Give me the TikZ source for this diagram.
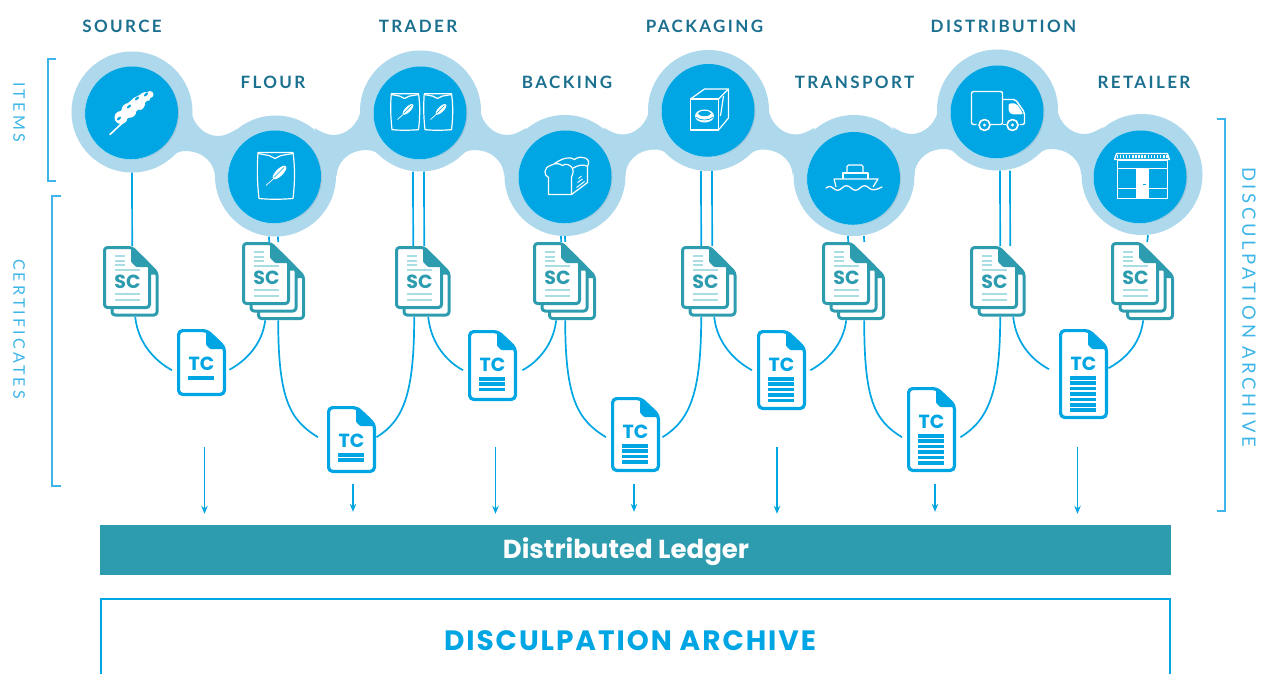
\documentclass[tikz,border=0pt]{standalone}
\usepackage{fontspec}
\usepackage{xcolor}
\usetikzlibrary{shadows,arrows.meta}

\newfontfamily\headfont{Poppins}
\newfontfamily\stepfont[LetterSpace=14]{Lato}
\newfontfamily\sidefont[LetterSpace=20]{Lato}
\newfontfamily\archivefont[LetterSpace=7]{Poppins}

\definecolor{hubblue}{HTML}{00A5E3}
\definecolor{haloblue}{HTML}{AED8EC}
\definecolor{stepdark}{HTML}{1B6F8F}
\definecolor{sideblue}{HTML}{3DB5E8}
\definecolor{tealdoc}{HTML}{2E9CAF}
\definecolor{teallight}{HTML}{A8DDE3}

\tikzset{
  halo/.style={circle, fill=haloblue, inner sep=0pt, minimum size=121pt},
  hub/.style={circle, fill=hubblue, inner sep=0pt, minimum size=92pt,
    drop shadow={shadow xshift=1pt, shadow yshift=-1pt, opacity=.08, fill=black},
    general shadow={shadow xshift=-1.2pt, shadow yshift=-1pt, fill=hubblue, draw=white!70!hubblue, line width=.4pt}},
  steplabel/.style={text=stepdark, font=\stepfont\bfseries\fontsize{17}{20}\selectfont, inner sep=0pt},
  sidelabel/.style={text=sideblue, font=\sidefont\fontsize{16}{20}\selectfont, rotate=-90, inner sep=0pt},
  bracket/.style={draw=sideblue, line width=1.1pt},
  link/.style={draw=hubblue, line width=1.7pt},
  flow/.style={draw=hubblue, line width=1.2pt, -{Stealth[length=8pt,width=6.5pt]}},
  iconline/.style={draw=white, line width=1.2pt, line join=round},
  % one bridge between a high hub and the next low hub
  pics/bandlink/.style={code={
    \fill[haloblue] (59,-2) .. controls (61,13) and (73,24) .. (86,24)
      .. controls (93,24) and (98,21) .. (105,17) -- (83,65)
      .. controls (83,53) and (73,39) .. (53,39)
      .. controls (46,39) and (43,42) .. (36,47) -- cycle;
  }},
  pics/scpage/.style={code={
    \draw[fill=white, draw=tealdoc, line width=3pt, rounded corners=3pt, line join=round]
      (1.5,1.5) -- (29,1.5) -- (46.5,19) -- (46.5,61.5) -- (1.5,61.5) -- cycle;
    \fill[tealdoc, rounded corners=1pt] (28,1) -- (47,19) -- (47,21) -- (33,21) -- (28,16) -- cycle;
  }},
  pics/scdoc/.style={code={
    \node[minimum width={(48+7.5*#1)*1pt}, minimum height={(63+7.5*#1)*1pt}, inner sep=0pt, anchor=north west] (-box) at (0,0) {};
    \foreach \k in {#1,...,0}
      \pic at ({7.5*\k},{7.5*\k}) {scpage};
    \fill[teallight] (12,9) rectangle ++(10,2.4);
    \fill[teallight] (12,13.5) rectangle ++(10,2.4);
    \fill[teallight] (12,18) rectangle ++(10,2.4);
    \fill[teallight] (12,22.5) rectangle ++(25,2.4);
    \fill[teallight] (12,46.5) rectangle ++(25,2.6);
    \fill[teallight] (12,52.5) rectangle ++(25,2.6);
    \node[text=tealdoc, font=\headfont\bfseries\fontsize{19}{20}\selectfont, inner sep=0pt] (-text) at (24.5,36) {SC};
  }},
  pics/tcdoc/.style 2 args={code={
    \node[minimum width=49pt, minimum height=#1pt, inner sep=0pt, anchor=north west] (-box) at (0,0) {};
    \draw[fill=white, draw=hubblue, line width=3.2pt, rounded corners=4pt, line join=round]
      (1.6,1.6) -- (30,1.6) -- (47.4,18) -- (47.4,#1-1.6) -- (1.6,#1-1.6) -- cycle;
    \fill[hubblue, rounded corners=1pt] (29,1) -- (48,18) -- (48,20) -- (33,20) -- (29,16) -- cycle;
    \node[text=hubblue, font=\headfont\bfseries\fontsize{19}{20}\selectfont, inner sep=0pt] (-text) at (24.5,35) {TC};
    \foreach \i in {1,...,#2}
      \fill[hubblue] (11,{47+5.4*(\i-1)}) rectangle ++(26,3.6);
  }},
  pics/iconwheat/.style={code={
    \draw[white, line width=1.6pt, line cap=round] (-22,22) -- (-6,7);
    \fill[white, rotate around={40:(2,-6)}] (2,-6) ellipse (20 and 6.5);
    \fill[white] (-11,5) circle (6.5);
    \fill[white] (-3,-2) circle (7.5);
    \fill[white] (6,-9) circle (7);
    \fill[white] (13,-15) circle (5.5);
    \fill[white] (18,-18) circle (3.5);
    \foreach \px/\py in {-13/6,-3/7,-3/-6,6/-1,5/-14,15/-10,14/-18}
      \fill[hubblue, rotate around={40:(\px,\py)}] (\px,\py) ellipse (2.6 and 1.2);
  }},
  pics/iconbag/.style={code={
    \draw[iconline] (-17,-24) -- (18,-24) .. controls (20,-10) and (20,5) .. (18,22)
      .. controls (6,23) and (-6,23) .. (-16,22) .. controls (-18,5) and (-18,-10) .. (-17,-24) -- cycle;
    \draw[iconline] (-17,-23) -- (-6,-21) -- (0,-18) -- (6,-21) -- (18,-23);
    \draw[white, line width=.7pt] (-9,9) -- (1,0);
    \fill[white, rotate around={45:(4.5,-4)}] (4.5,-4) ellipse (9 and 3.6);
    \draw[hubblue, line width=.4pt] (-1,1) -- (9,-9);
  }},
  pics/iconbags/.style={code={
    \pic[scale=.78] at (-16,0) {iconbag};
    \pic[scale=.78] at (17,0) {iconbag};
  }},
  pics/iconbread/.style={code={
    \draw[iconline] (-17,18) -- (-17,1) .. controls (-22,-1) and (-22,-9) .. (-15,-11)
      .. controls (-10,-14) and (-6,-13) .. (-3,-11) .. controls (0,-14) and (6,-11) .. (7,-8)
      .. controls (9,-4) and (6,-1) .. (6,1) -- (6,18) -- cycle;
    \draw[iconline] (6,18) -- (22,6) -- (22,-10) .. controls (25,-15) and (22,-19) .. (17,-19)
      .. controls (14,-20) and (10,-18) .. (9,-17) .. controls (5,-20) and (-2,-19) .. (-11,-13);
    \draw[iconline] (7,-8) .. controls (11,-11) and (19,-13) .. (22,-10);
    \draw[white, line width=.9pt] (11,11) -- (19,5);
    \draw[white, line width=.9pt] (12,6) -- (17,2.5);
    \draw[white, line width=.9pt] (13,2) -- (16,-.5);
  }},
  pics/iconbox/.style={code={
    \draw[iconline] (-18,-11) -- (10,-11) -- (10,20) -- (-18,20) -- cycle;
    \draw[iconline] (-18,-11) -- (-4,-21) -- (20,-21) -- (10,-11);
    \draw[iconline] (20,-21) -- (20,8) -- (10,20);
    \draw[iconline] (15,-14) -- (12,6);
    \fill[white] (-4,6) ellipse (9.5 and 6.5);
    \fill[hubblue] (-4,3.5) ellipse (6.5 and 2.6);
    \draw[hubblue, line width=.7pt] (-13,7) .. controls (-9,11) and (1,11) .. (5,7);
  }},
  pics/iconship/.style={code={
    \draw[iconline] (-20,1) -- (24,1) -- (19,9);
    \draw[iconline] (-20,1) -- (-18,9);
    \draw[iconline] (-11,1) -- (-11,-5) -- (14,-5) -- (14,1);
    \draw[iconline, rounded corners=1.5pt] (-7,-5) -- (-7,-13) -- (9,-13) -- (9,-5);
    \draw[white, line width=1.3pt, line cap=round] (-28,10) .. controls (-25,8) and (-24,8) .. (-21,10)
      .. controls (-18,13) and (-15,13) .. (-12,10) .. controls (-9,7) and (-6,7) .. (-3,10)
      .. controls (0,13) and (3,13) .. (6,10) .. controls (9,7) and (12,7) .. (15,10)
      .. controls (18,13) and (22,12) .. (28,9);
  }},
  pics/icontruck/.style={code={
    \draw[iconline, line width=1.4pt, rounded corners=2pt] (-21,13) -- (-26,13) -- (-26,-20) -- (5,-20) -- (5,13) -- (-7,13);
    \draw[iconline, line width=1.4pt, rounded corners=2pt] (5,-12) -- (18,-12) -- (27,1) -- (27,13) -- (22,13);
    \draw[iconline, line width=1.4pt] (5,13) -- (8,13);
    \fill[white, rounded corners=2pt] (11,-8) -- (19,-8) -- (25,1) -- (25,3) -- (14,3) -- (11,0) -- cycle;
    \draw[iconline, line width=1.6pt] (-13,13.5) circle (5.5);
    \fill[white] (-13,13.5) circle (1.6);
    \draw[iconline, line width=1.6pt] (15,13.5) circle (5.5);
    \fill[white] (15,13.5) circle (1.6);
  }},
  pics/iconshop/.style={code={
    \draw[iconline] (-26,-17) -- (-24,-23) -- (27,-23) -- (29,-17) -- cycle;
    \draw[white, line width=3pt, dash pattern=on 1.5pt off 1.6pt] (-24,-20) -- (27,-20);
    \draw[iconline] (-23,-16) rectangle (27,22);
    \draw[iconline] (-23,-8) -- (27,-8);
    \draw[iconline] (-23,12) -- (27,12);
    \fill[white] (-5,-8) rectangle (8,22);
    \fill[hubblue] (2,7) rectangle (5,8.5);
  }},
}

\begin{document}
\begin{tikzpicture}[x=1pt,y=-1pt]
  \useasboundingbox (0,0) rectangle (1261,674);

  % light band behind the hubs
  \node[halo] (source-halo) at (132,112) {};
  \node[halo] (flour-halo) at (275.5,176) {};
  \node[halo] (trader-halo) at (420.5,111) {};
  \node[halo] (backing-halo) at (565,175.5) {};
  \node[halo] (packaging-halo) at (708.5,110.5) {};
  \node[halo] (transport-halo) at (854,175.5) {};
  \node[halo] (distribution-halo) at (997.5,110) {};
  \node[halo] (retailer-halo) at (1142,174.5) {};
  \pic at (source-halo) {bandlink};
  \pic[xscale=-1.01] at (trader-halo) {bandlink};
  \pic[xscale=1.007] at (trader-halo) {bandlink};
  \pic[xscale=-1] at (packaging-halo) {bandlink};
  \pic[xscale=1.014] at (packaging-halo) {bandlink};
  \pic[xscale=-1] at (distribution-halo) {bandlink};
  \pic[xscale=1.007] at (distribution-halo) {bandlink};

  % hubs and their icons
  \node[hub] (source) at (132,112.5) {};
  \node[hub] (flour) at (275,176.5) {};
  \node[hub] (trader) at (420.5,112.5) {};
  \node[hub] (backing) at (565.5,176.5) {};
  \node[hub] (packaging) at (708.5,110) {};
  \node[hub] (transport) at (854,178) {};
  \node[hub] (distribution) at (997.5,111.5) {};
  \node[hub] (retailer) at (1140.5,176.5) {};
  \pic at (source) {iconwheat};
  \pic at (flour) {iconbag};
  \pic at (trader) {iconbags};
  \pic at (backing) {iconbread};
  \pic at (packaging) {iconbox};
  \pic at (transport) {iconship};
  \pic at (distribution) {icontruck};
  \pic at (retailer) {iconshop};

  % step names
  \node[steplabel] (sourcelabel) at (122,26) {SOURCE};
  \node[steplabel] (flourlabel) at (273,82) {FLOUR};
  \node[steplabel] (traderlabel) at (418,26) {TRADER};
  \node[steplabel] (backinglabel) at (567,82) {BACKING};
  \node[steplabel] (packaginglabel) at (704.5,26) {PACKAGING};
  \node[steplabel] (transportlabel) at (854.5,82) {TRANSPORT};
  \node[steplabel] (distributionlabel) at (1003.5,26) {DISTRIBUTION};
  \node[steplabel] (retailerlabel) at (1144,82) {RETAILER};

  % side brackets
  \draw[bracket] (56,59) -- (48,59) -- (48,181) -- (56,181);
  \node[sidelabel] (itemslabel) at (19,112) {ITEMS};
  \draw[bracket] (61,196) -- (52,196) -- (52,486) -- (61,486);
  \node[sidelabel] (certlabel) at (19,329) {CERTIFICATES};
  \draw[bracket] (1217,119) -- (1225,119) -- (1225,511) -- (1217,511);
  \node[sidelabel, font=\sidefont\fontsize{18.4}{20}\selectfont] (sidearchive) at (1249,307) {DISCULPATION ARCHIVE};

  % certificates
  \pic (sc1) at (103,246) {scdoc=1};
  \pic (sc2) at (242,242) {scdoc=2};
  \pic (sc3) at (395,246) {scdoc=1};
  \pic (sc4) at (533,242) {scdoc=2};
  \pic (sc5) at (681,246) {scdoc=1};
  \pic (sc6) at (822,242) {scdoc=2};
  \pic (sc7) at (970,246) {scdoc=1};
  \pic (sc8) at (1111,242) {scdoc=2};
  \pic (tc1) at (177,329) {tcdoc={67}{1}};
  \pic (tc2) at (327,406) {tcdoc={67}{2}};
  \pic (tc3) at (468,330) {tcdoc={71}{3}};
  \pic (tc4) at (611,397) {tcdoc={75}{4}};
  \pic (tc5) at (757,330) {tcdoc={80}{5}};
  \pic (tc6) at (907,387) {tcdoc={85}{6}};
  \pic (tc7) at (1059,329) {tcdoc={90}{7}};

  % hub to certificate
  \draw[link] (source-halo.south) -- ([xshift=1.25pt]sc1-box.north);
  \draw[link] ([xshift=-6.5pt]flour-halo.south) -- ([xshift=-4.5pt]sc2-box.north);
  \draw[link] ([xshift=2.5pt]flour-halo.south) -- ([xshift=4.5pt]sc2-box.north);
  \draw[link] ([xshift=-7.5pt]trader-halo.south) -- ([xshift=-9.75pt]sc3-box.north);
  \draw[link] ([xshift=3.5pt]trader-halo.south) -- ([xshift=1.25pt]sc3-box.north);
  \draw[link] ([xshift=-4pt]backing-halo.south) -- ([xshift=-3.5pt]sc4-box.north);
  \draw[link] (backing-halo.south) -- ([xshift=.5pt]sc4-box.north);
  \draw[link] ([xshift=-7.5pt]packaging-halo.south) -- ([xshift=-7.75pt]sc5-box.north);
  \draw[link] ([xshift=3.5pt]packaging-halo.south) -- ([xshift=3.25pt]sc5-box.north);
  \draw[link] ([xshift=-6pt]transport-halo.south) -- ([xshift=-5.5pt]sc6-box.north);
  \draw[link] ([xshift=10pt]transport-halo.south) -- ([xshift=10.5pt]sc6-box.north);
  \draw[link] ([xshift=2.5pt]distribution-halo.south) -- ([xshift=2.25pt]sc7-box.north);
  \draw[link] ([xshift=12.5pt]distribution-halo.south) -- ([xshift=12.25pt]sc7-box.north);
  \draw[link] ([xshift=6pt]retailer-halo.south) -- ([xshift=4.5pt]sc8-box.north);

  % certificate to transaction
  \draw[link] ([xshift=4.25pt]sc1-box.south) .. controls +(3,28) and +(-15,-8) .. ([xshift=-5pt,yshift=-7.5pt]tc1-box.west);
  \draw[link] ([xshift=-8.5pt]sc2-box.south) .. controls +(-3,25) and +(15,-8) .. ([xshift=3pt,yshift=-7pt]tc1-box.east);
  \draw[link] ([xshift=4.5pt]sc2-box.south) .. controls +(0,79) and +(-28,-17) .. ([xshift=-9pt,yshift=2.5pt]tc2-box.west);
  \draw[link] ([xshift=-8.75pt]sc3-box.south) .. controls +(0,75) and +(28,-17) .. ([yshift=2.5pt]tc2-box.east);
  \draw[link] ([xshift=5.25pt]sc3-box.south) .. controls +(3,28) and +(-15,-8) .. ([xshift=-5pt,yshift=-4.5pt]tc3-box.west);
  \draw[link] ([xshift=-8.5pt]sc4-box.south) .. controls +(-3,25) and +(15,-8) .. ([xshift=5pt,yshift=-4.5pt]tc3-box.east);
  \draw[link] ([xshift=.5pt]sc4-box.south) .. controls +(0,79) and +(-28,-17) .. ([xshift=-5pt,yshift=-2.5pt]tc4-box.west);
  \draw[link] ([xshift=-7.75pt]sc5-box.south) .. controls +(0,75) and +(28,-17) .. ([xshift=2pt,yshift=-2.5pt]tc4-box.east);
  \draw[link] ([xshift=5.25pt]sc5-box.south) .. controls +(3,28) and +(-15,-8) .. ([xshift=-5pt]tc5-box.west);
  \draw[link] ([xshift=-7.5pt]sc6-box.south) .. controls +(-3,25) and +(15,-8) .. ([xshift=4pt]tc5-box.east);
  \draw[link] ([xshift=10.5pt]sc6-box.south) .. controls +(0,79) and +(-28,-17) .. ([xshift=-5pt,yshift=-7.5pt]tc6-box.west);
  \draw[link] ([xshift=2.25pt]sc7-box.south) .. controls +(0,75) and +(28,-17) .. ([xshift=4pt,yshift=-7.5pt]tc6-box.east);
  \draw[link] ([xshift=15.25pt]sc7-box.south) .. controls +(3,28) and +(-15,-8) .. ([xshift=-10pt,yshift=5pt]tc7-box.west);
  \draw[link] ([xshift=.5pt]sc8-box.south) .. controls +(-3,25) and +(15,-8) .. ([yshift=6pt]tc7-box.east);

  % ledger and archive
  \node[fill=tealdoc, minimum width=1071pt, minimum height=50pt, inner sep=0pt] (ledger) at (635.5,550) {};
  \node[text=white, font=\headfont\bfseries\fontsize{26}{28}\selectfont, inner sep=0pt] (ledgertext) at (626,552) {Distributed Ledger};
  \draw[draw=hubblue, line width=1.4pt] (101,674) -- (101,599) -- (1170,599) -- (1170,674);
  \node[text=hubblue, font=\archivefont\bfseries\fontsize{28}{30}\selectfont, inner sep=0pt] (archive) at (630,641) {DISCULPATION ARCHIVE};

  % hand over to the ledger
  \coordinate (up1) at (204.5,447);
  \coordinate (up2) at (353,484);
  \coordinate (up3) at (495.5,447);
  \coordinate (up4) at (634,484);
  \coordinate (up5) at (777,447);
  \coordinate (up6) at (935,484);
  \coordinate (up7) at (1077.5,447);
  \draw[flow, shorten >=11pt] (up1) -- (up1 |- ledger.north);
  \draw[flow, shorten >=13pt] (up2) -- (up2 |- ledger.north);
  \draw[flow, shorten >=11pt] (up3) -- (up3 |- ledger.north);
  \draw[flow, shorten >=13pt] (up4) -- (up4 |- ledger.north);
  \draw[flow, shorten >=11pt] (up5) -- (up5 |- ledger.north);
  \draw[flow, shorten >=13pt] (up6) -- (up6 |- ledger.north);
  \draw[flow, shorten >=11pt] (up7) -- (up7 |- ledger.north);
\end{tikzpicture}
\end{document}
